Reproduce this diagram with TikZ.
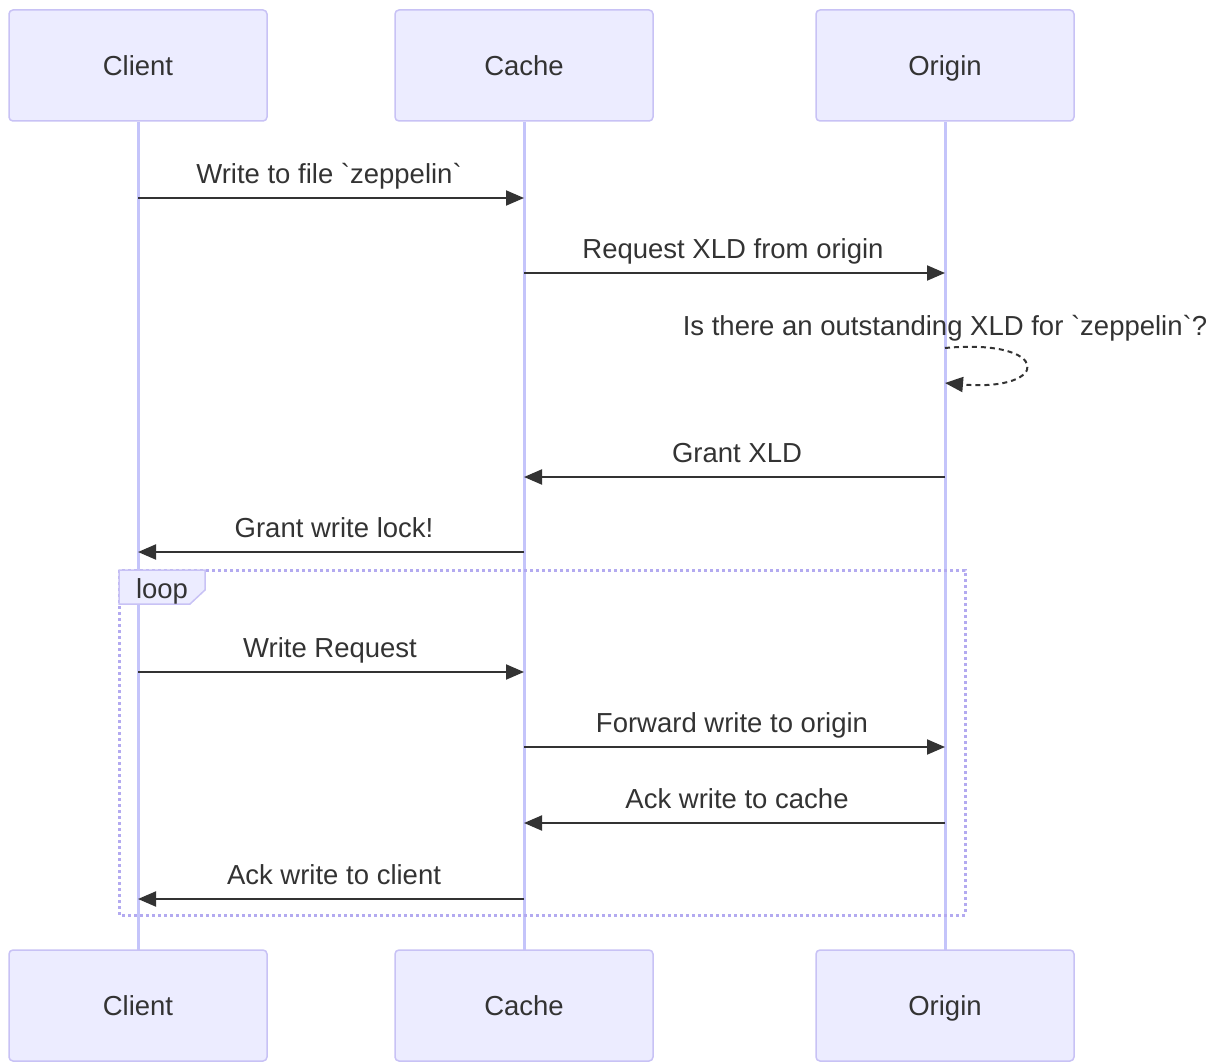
\documentclass[tikz,border=0pt]{standalone}
\usepackage{fontspec}
\setmainfont{Liberation Sans}[Ligatures=TeXOff]
\usetikzlibrary{arrows.meta}
\definecolor{actfill}{HTML}{ECECFF}
\definecolor{actline}{HTML}{C8C2F5}
\definecolor{lifeline}{HTML}{C4C4FA}
\definecolor{frameline}{HTML}{B3AAF0}
\definecolor{ink}{HTML}{333333}
\tikzset{
  actor/.style={draw=actline, fill=actfill, line width=1.5pt, rounded corners=4pt, minimum width=258pt, minimum height=111pt, inner sep=0pt, text=ink, font=\fontsize{27.5}{32}\selectfont, text height=20pt, text depth=0pt},
  life/.style={draw=lifeline, line width=3pt},
  msg/.style={draw=ink, line width=2pt, -{Triangle[length=18pt,width=15pt]}},
  msgtext/.style={text=ink, font=\fontsize{27.5}{32}\selectfont, inner sep=0pt, anchor=base},
  loopbox/.style={draw=frameline, line width=3pt, dash pattern=on 3pt off 3pt},
}
\begin{document}
\begin{tikzpicture}[x=1pt,y=-1pt]
\useasboundingbox (0,0) rectangle (1224,1062);
% lifelines
\coordinate (lc) at (138,122); \coordinate (lcb) at (138,950);
\coordinate (la) at (524,122); \coordinate (lab) at (524,950);
\coordinate (lo) at (945,122); \coordinate (lob) at (945,950);
\draw[life] (lc) -- (lcb);
\draw[life] (la) -- (lab);
\draw[life] (lo) -- (lob);
% actors
\node[actor] (ct) at (138,65.5) {Client};
\node[actor] (at) at (524,65.5) {Cache};
\node[actor] (ot) at (945,65.5) {Origin};
\node[actor] (cb) at (138,1005.5) {Client};
\node[actor] (ab) at (524,1005.5) {Cache};
\node[actor] (ob) at (945,1005.5) {Origin};
% loop frame
\draw[loopbox] (119,570) rectangle (965,915);
\draw[draw=actline, fill=actfill, line width=1.5pt] (119,570) -- (205,570) -- (205,590) -- (190,604) -- (119,604) -- cycle;
\node[msgtext] (looplbl) at (162,598) {loop};
% messages
\coordinate (c1) at (138,198); \coordinate (a1) at (524,198);
\draw[msg] (c1) -- (a1);
\node[msgtext] (t1) at (329,183) {Write to file {\char"60}zeppelin{\char"60}};
\coordinate (a2) at (524,273); \coordinate (o2) at (945,273);
\draw[msg] (a2) -- (o2);
\node[msgtext] (t2) at (733,258) {Request XLD from origin};
\node[msgtext] (t3) at (945,335) {Is there an outstanding XLD for {\char"60}zeppelin{\char"60}?};
\coordinate (s1) at (945,348); \coordinate (s2) at (945,383);
\draw[msg, dash pattern=on 5pt off 4pt] (s1) .. controls (1052,338) and (1052,392) .. (s2);
\coordinate (o4) at (945,477); \coordinate (a4) at (524,477);
\draw[msg] (o4) -- (a4);
\node[msgtext] (t4) at (737,462) {Grant XLD};
\coordinate (a5) at (524,552); \coordinate (c5) at (138,552);
\draw[msg] (a5) -- (c5);
\node[msgtext] (t5) at (334,537) {Grant write lock!};
\coordinate (c6) at (138,672); \coordinate (a6) at (524,672);
\draw[msg] (c6) -- (a6);
\node[msgtext] (t6) at (330,657) {Write Request};
\coordinate (a7) at (524,747); \coordinate (o7) at (945,747);
\draw[msg] (a7) -- (o7);
\node[msgtext] (t7) at (732,732) {Forward write to origin};
\coordinate (o8) at (945,823); \coordinate (a8) at (524,823);
\draw[msg] (o8) -- (a8);
\node[msgtext] (t8) at (737,808) {Ack write to cache};
\coordinate (a9) at (524,899); \coordinate (c9) at (138,899);
\draw[msg] (a9) -- (c9);
\node[msgtext] (t9) at (334,884) {Ack write to client};
\end{tikzpicture}
\end{document}
